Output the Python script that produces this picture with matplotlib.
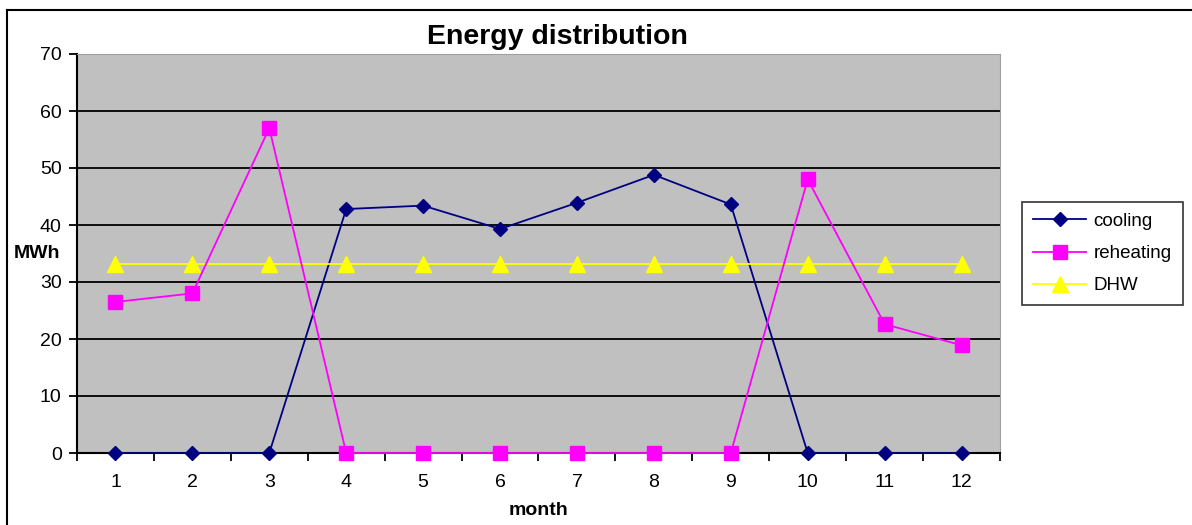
import matplotlib.pyplot as plt
from matplotlib.lines import Line2D
import numpy as np

plt.rcParams['font.family'] = ['Liberation Sans', 'DejaVu Sans']

# Data
months = [1, 2, 3, 4, 5, 6, 7, 8, 9, 10, 11, 12]
cooling = [0, 0, 0, 42.8, 43.4, 39.3, 43.9, 48.8, 43.6, 0, 0, 0]
reheating = [26.5, 28.0, 57.0, 0, 0, 0, 0, 0, 0, 48.0, 22.6, 18.9]
dhw = [33.2] * 12

fig = plt.figure(figsize=(11.92, 5.25), dpi=100)
ax = fig.add_axes([77 / 1192, 72 / 525, 923 / 1192, 399 / 525])
ax.set_facecolor('#c0c0c0')

ax.plot(months, cooling, color='#000080', marker='D', markersize=7.5, lw=1.3, label='cooling',
        zorder=3, clip_on=False)
ax.plot(months, reheating, color='#ff00ff', marker='s', markersize=10, lw=1.3, label='reheating',
        zorder=4, clip_on=False)
ax.plot(months, dhw, color='#ffff00', marker='^', markersize=11, lw=1.3, label='DHW', zorder=3)

ax.set_xlim(0.5, 12.5)
ax.set_ylim(0, 70)
ax.set_yticks(np.arange(0, 71, 10))
ax.set_xticks(months)
ax.set_xticks(np.arange(0.5, 12.6, 1), minor=True)
ax.tick_params(axis='x', which='major', length=0, pad=15, labelsize=14)
ax.tick_params(axis='x', which='minor', length=6, width=1.3, direction='out')
ax.tick_params(axis='y', length=6, width=1.3, direction='out', labelsize=14, pad=5)
ax.yaxis.grid(True, color='black', lw=1.3)
ax.set_axisbelow(True)
for s in ['left', 'bottom']:
    ax.spines[s].set_linewidth(1.5)
ax.spines['top'].set_color('#a0a0a0')
ax.spines['right'].set_color('#a0a0a0')

fig.text(557 / 1192, 1 - 37 / 525, 'Energy distribution', fontsize=20.5, fontweight='bold',
         ha='center', va='center')
ax.set_xlabel('month', fontsize=14, fontweight='bold', labelpad=8)
ax.set_ylabel('MWh', fontsize=14, fontweight='bold', rotation=0, va='center', ha='center')
ax.yaxis.set_label_coords(-0.043, 0.5)

leg = ax.legend(loc='center left', bbox_to_anchor=(1.024, 0.5), fontsize=13.5,
                frameon=True, fancybox=False, edgecolor='black', borderpad=0.6,
                handlelength=2.8, labelspacing=0.8, handletextpad=0.4, borderaxespad=0)
leg.get_frame().set_linewidth(1.2)

# outer chart border
fig.add_artist(Line2D([7 / 1192, 1], [1 - 10 / 525, 1 - 10 / 525], color='black', lw=1.5, transform=fig.transFigure))
fig.add_artist(Line2D([7 / 1192, 7 / 1192], [0, 1 - 10 / 525], color='black', lw=1.5, transform=fig.transFigure))

fig.savefig('out.png', dpi=100)
